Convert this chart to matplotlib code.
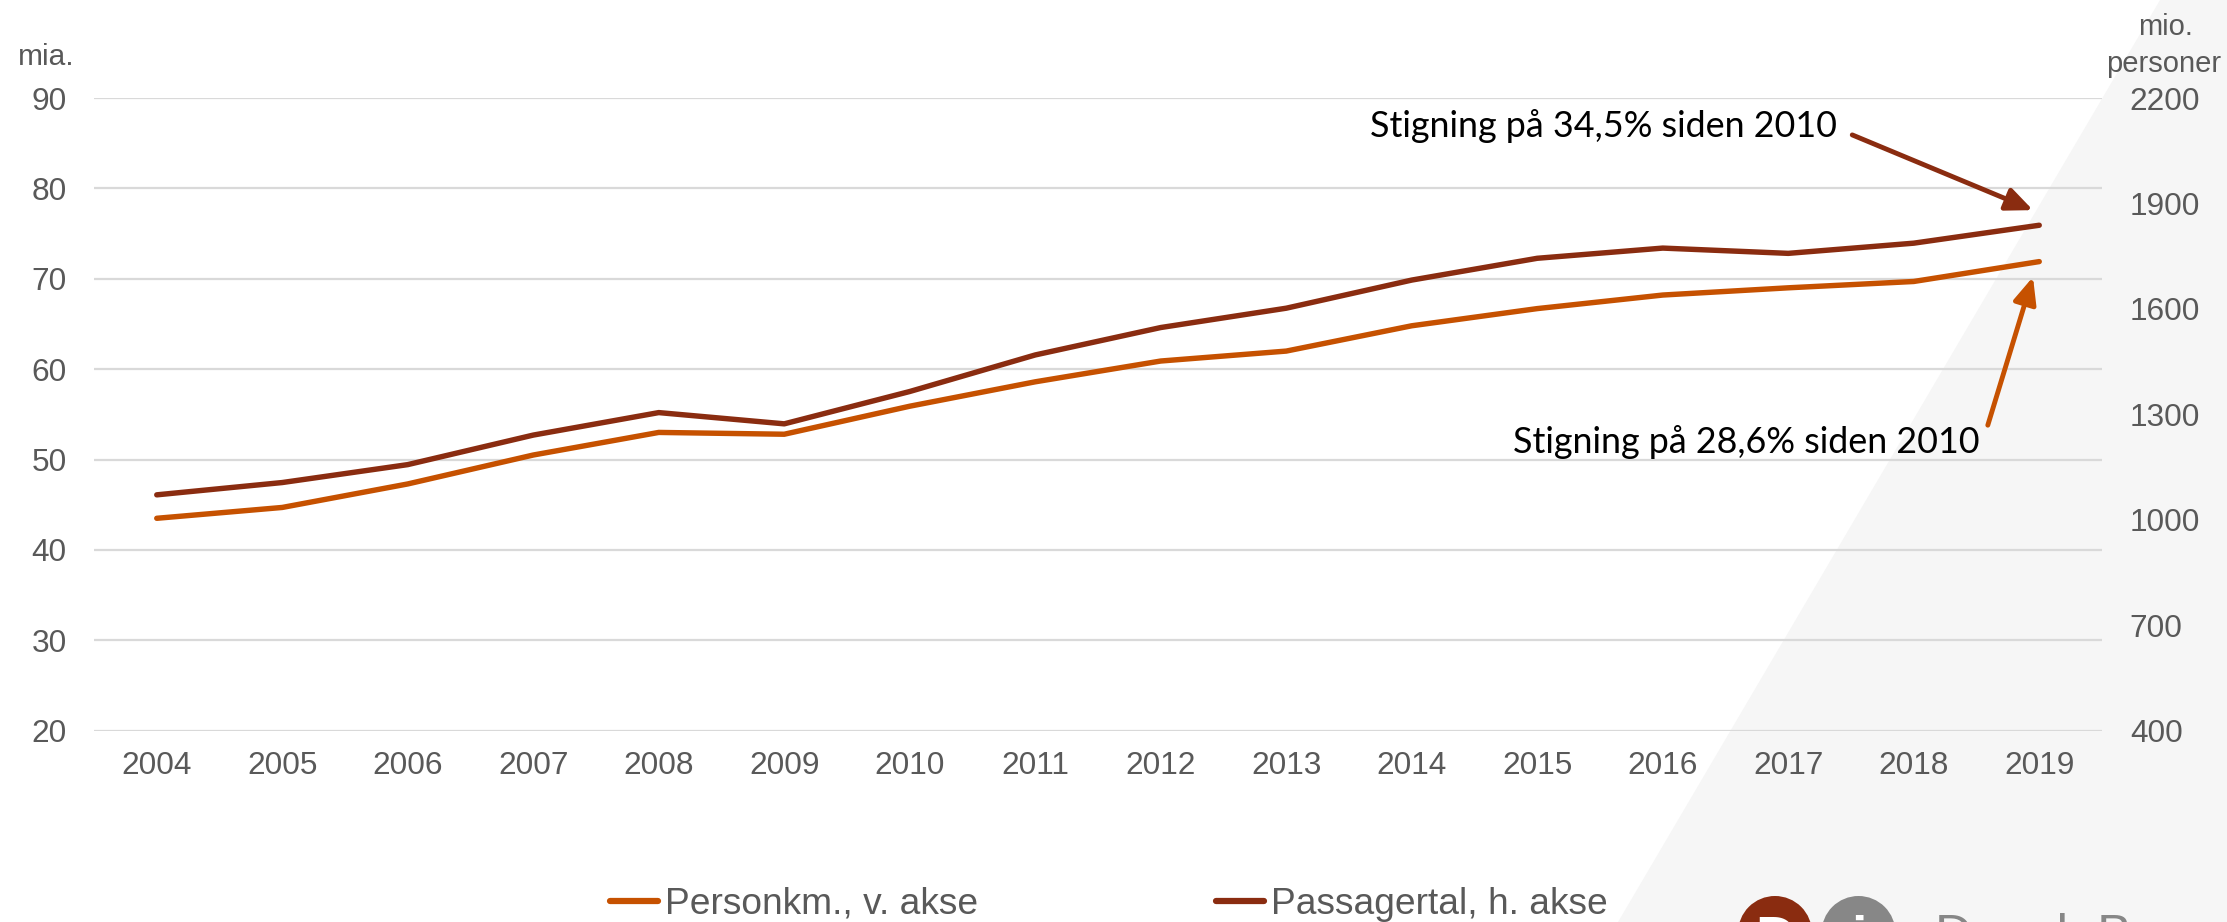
import matplotlib
matplotlib.use("Agg")
import matplotlib.pyplot as plt
from matplotlib.patches import Polygon, Circle
from matplotlib.lines import Line2D

plt.rcParams['font.family'] = ['Liberation Sans', 'DejaVu Sans']

# ---------------- data ----------------
years = ["2004", "2005", "2006", "2007", "2008", "2009", "2010", "2011",
         "2012", "2013", "2014", "2015", "2016", "2017", "2018", "2019"]
personkm = [43.5, 44.7, 47.3, 50.5, 53.0, 52.8, 55.9, 58.6,
            60.9, 62.0, 64.8, 66.7, 68.2, 69.0, 69.7, 71.9]          # mia., left axis
passagertal = [1071, 1106, 1157, 1241, 1305, 1273, 1365, 1469,
               1547, 1602, 1682, 1744, 1773, 1758, 1787, 1838]       # mio. personer, right axis
left_ticks = [20, 30, 40, 50, 60, 70, 80, 90]
right_ticks = [400, 700, 1000, 1300, 1600, 1900, 2200]
label_personkm = "Personkm., v. akse"
label_passager = "Passagertal, h. akse"
note_pass = "Stigning på 34,5% siden 2010"
note_pkm = "Stigning på 28,6% siden 2010"

ORANGE = "#C65100"
DARK = "#8A2C10"
GRID = "#D9D9D9"
TXT = "#595959"
LOGO_GREY = "#878787"

W, H = 2227, 922
fig = plt.figure(figsize=(W / 100, H / 100), dpi=100)
fig.patch.set_facecolor("white")

# light grey diagonal background panel
bg = Polygon([(2160 / W, 1), (1, 1), (1, 0), (1618 / W, 0)], closed=True,
             transform=fig.transFigure, facecolor="#F6F6F6", edgecolor="none", zorder=-1)
fig.patches.append(bg)

ax = fig.add_axes([94 / W, 1 - 730.7 / H, (2102 - 94) / W, (730.7 - 98) / H])
ax.set_facecolor("none")
x = list(range(len(years)))
ax.set_xlim(-0.5, len(years) - 0.5)
ax.set_ylim(left_ticks[0], left_ticks[-1])
ax.set_yticks(left_ticks)
ax.set_xticks(x)
ax.set_xticklabels(years)
ax.grid(axis="y", color=GRID, lw=1.6)
ax.set_axisbelow(True)
for s in ax.spines.values():
    s.set_visible(False)
ax.tick_params(length=0, labelsize=22.8, labelcolor=TXT)
ax.tick_params(axis="y", pad=19.7)
ax.tick_params(axis="x", pad=14.5)

ax2 = ax.twinx()
ax2.set_ylim(right_ticks[0], right_ticks[-1])
ax2.set_yticks(right_ticks)
for s in ax2.spines.values():
    s.set_visible(False)
ax2.tick_params(length=0, labelsize=22.8, labelcolor=TXT, pad=20)

ax.plot(x, personkm, color=ORANGE, lw=3.9, solid_capstyle="round", solid_joinstyle="round")
ax2.plot(x, passagertal, color=DARK, lw=3.9, solid_capstyle="round", solid_joinstyle="round")

# annotations
ax.text(9.67, 85.7, note_pass, fontfamily="Lato", fontsize=25.8, color="black",
        ha="left", va="baseline")
ax.text(10.81, 50.7, note_pkm, fontfamily="Lato", fontsize=25.8, color="black",
        ha="left", va="baseline")
ax2.annotate("", xy=(14.95, 1881), xytext=(13.51, 2095),
             arrowprops=dict(arrowstyle="-|>,head_length=0.8,head_width=0.35",
                             color=DARK, lw=3.5, mutation_scale=20, shrinkA=0, shrinkB=0))
ax.annotate("", xy=(14.95, 70.2), xytext=(14.59, 53.8),
            arrowprops=dict(arrowstyle="-|>,head_length=0.8,head_width=0.35",
                            color=ORANGE, lw=3.5, mutation_scale=20, shrinkA=0, shrinkB=0))

# unit labels
fig.text(18 / W, 1 - 65 / H, "mia.", ha="left", va="baseline", fontsize=21.5, color=TXT)
fig.text(2166 / W, 1 - 35 / H, "mio.", ha="center", va="baseline", fontsize=21, color=TXT)
fig.text(2164 / W, 1 - 72 / H, "personer", ha="center", va="baseline", fontsize=21, color=TXT)

# legend (two entries at their own positions)
h1 = Line2D([], [], color=ORANGE, lw=4.5, solid_capstyle="round")
h2 = Line2D([], [], color=DARK, lw=4.5, solid_capstyle="round")
for h, lab, x0 in [(h1, label_personkm, 610), (h2, label_passager, 1216)]:
    fig.legend(handles=[h], labels=[lab], loc="center left",
               bbox_to_anchor=(x0 / W, 1 - 904 / H), frameon=False, fontsize=26.7,
               handlelength=1.3, handletextpad=0.18, borderpad=0, borderaxespad=0,
               labelcolor=TXT)

# logo (cut off at the bottom edge, as in the reference)
fig.patches.append(Circle((17.75, -0.11), 0.37, transform=fig.dpi_scale_trans,
                          facecolor=DARK, edgecolor="none", zorder=2))
fig.patches.append(Circle((18.585, -0.11), 0.37, transform=fig.dpi_scale_trans,
                          facecolor=LOGO_GREY, edgecolor="none", zorder=2))
fig.text(17.75, -0.33, "D", transform=fig.dpi_scale_trans, ha="center", va="baseline",
         fontsize=40, fontweight="bold", color="white", zorder=3)
fig.text(18.585, -0.33, "i", transform=fig.dpi_scale_trans, ha="center", va="baseline",
         fontsize=40, fontweight="bold", color="white", zorder=3)
fig.text(19.35, -0.28, "Dansk B", transform=fig.dpi_scale_trans, ha="left", va="baseline",
         fontsize=37.5, color=LOGO_GREY, zorder=3)

fig.savefig("out.png", dpi=100)
